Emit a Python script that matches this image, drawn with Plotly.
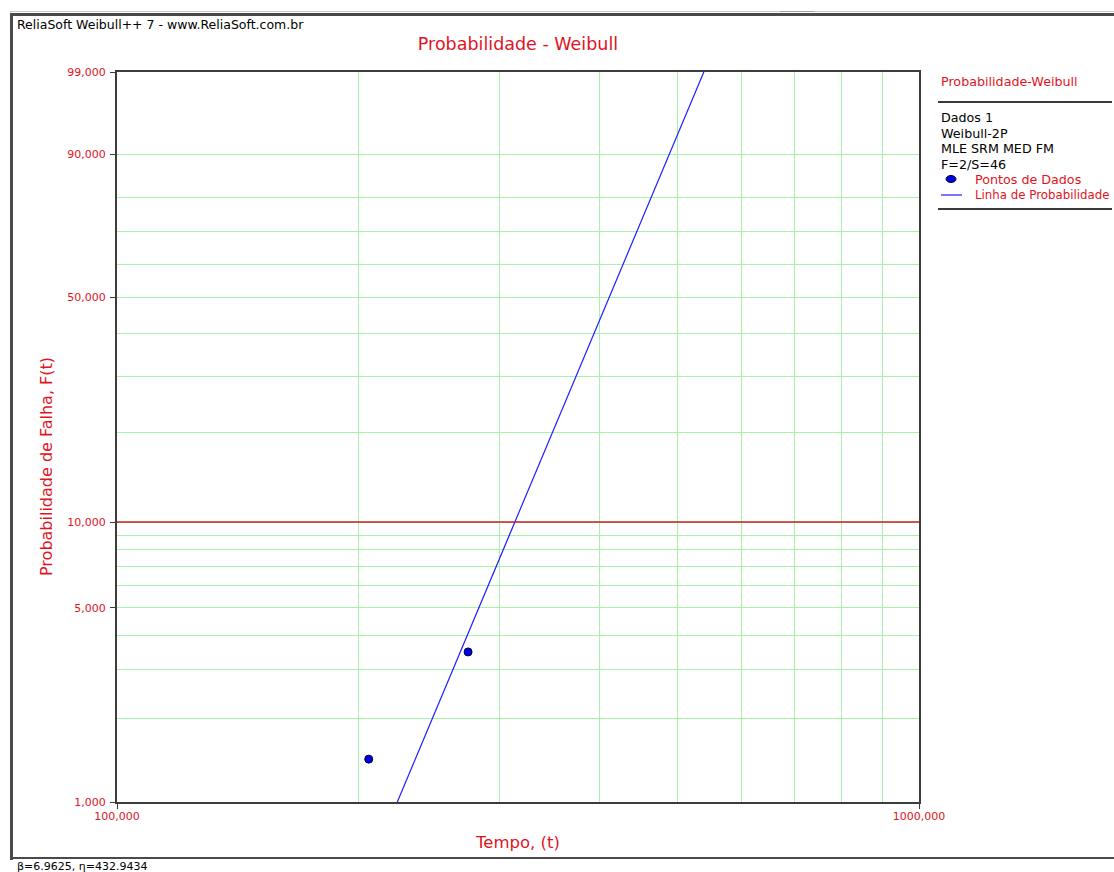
import numpy as np
import plotly.graph_objects as go

# Weibull-2P parameters (MLE)
beta = 6.9625
eta = 432.9434

# plotted failure points: time and median-rank unreliability
fail_times = [206.0, 274.0]
fail_prob = [0.0143, 0.0348]

# probability axis (unreliability, as fractions)
prob_major = [0.01, 0.05, 0.10, 0.50, 0.90, 0.99]
prob_major_labels = ["1,000", "5,000", "10,000", "50,000", "90,000", "99,000"]
prob_minor = [0.02, 0.03, 0.04, 0.06, 0.07, 0.08, 0.09, 0.20, 0.30, 0.40, 0.60, 0.70, 0.80]

# time axis
time_major = [100, 1000]
time_major_labels = ["100,000", "1000,000"]
time_minor = [200, 300, 400, 500, 600, 700, 800, 900]

# fitted line drawn across the full probability range
line_prob = [0.01, 0.99]

W, H = 1114, 872
L, R, T, B = 117, 919, 72, 802

FONT = "DejaVu Sans"
RED = "#e0141e"
GRID = "#a6f2a6"
FRAME = "#3c3c3c"


def wb(F):
    """Weibull probability-paper transform."""
    return np.log(-np.log(1.0 - np.asarray(F, dtype=float)))


def px(x):
    return (x - L) / (R - L)


def py(y):
    return (B - y) / (B - T)


line_time = eta * (-np.log(1.0 - np.asarray(line_prob))) ** (1.0 / beta)

# every grid position carries a tick; only the major ones get a label
x_grid = sorted(time_major + time_minor)
x_text = [time_major_labels[time_major.index(v)] if v in time_major else "" for v in x_grid]
y_grid = sorted(prob_major + prob_minor)
y_text = [prob_major_labels[prob_major.index(v)] if v in prob_major else "" for v in y_grid]

fig = go.Figure()

fig.add_trace(go.Scatter(
    x=line_time, y=wb(line_prob), mode="lines",
    line=dict(color="#1e1eff", width=1.2),
    name="Linha de Probabilidade", showlegend=False,
))
fig.add_trace(go.Scatter(
    x=fail_times, y=wb(fail_prob), mode="markers",
    marker=dict(symbol="circle", size=8, color="#0000e6",
                line=dict(color="#000033", width=1)),
    name="Pontos de Dados", showlegend=False,
))

shapes = []
# 10% reference line
shapes.append(dict(type="line", xref="paper", yref="y", x0=0, x1=1,
                   y0=float(wb(0.10)), y1=float(wb(0.10)),
                   line=dict(color="#c42020", width=1.6), layer="above"))


# window frame
def hline(y, x0, x1, color, width):
    shapes.append(dict(type="line", xref="paper", yref="paper",
                       x0=px(x0), x1=px(x1), y0=py(y), y1=py(y),
                       line=dict(color=color, width=width), layer="above"))


def vline(x, y0, y1, color, width):
    shapes.append(dict(type="line", xref="paper", yref="paper",
                       x0=px(x), x1=px(x), y0=py(y0), y1=py(y1),
                       line=dict(color=color, width=width), layer="above"))


hline(11.5, 10, W, "#c8c8c8", 1)
hline(14.5, 10, W, "#4a4a4a", 3)
hline(11.5, 780, 814, "#a0a0a0", 1)
vline(11.5, 13, 860, "#4a4a4a", 3)
hline(858, 10, W, "#4a4a4a", 2)
hline(102, 938, 1112, "#3a3a3a", 2)
hline(209, 938, 1112, "#3a3a3a", 2)

# legend symbols
shapes.append(dict(type="circle", xref="paper", yref="paper",
                   x0=px(946), x1=px(956), y0=py(175.5), y1=py(182.5),
                   fillcolor="#0000e6", line=dict(color="#000033", width=1)))
hline(195, 941, 962, "#1e1eff", 1.2)

annotations = []


def text(x, y, s, color="black", size=11, anchor="left", angle=0):
    annotations.append(dict(xref="paper", yref="paper", x=px(x), y=py(y),
                            text=s, showarrow=False, xanchor=anchor,
                            yanchor="middle", textangle=angle,
                            font=dict(family=FONT, size=size, color=color)))


text(15, 24, "ReliaSoft Weibull++ 7 - www.ReliaSoft.com.br", size=12.5)
text(939, 81, "Probabilidade-Weibull", RED, size=12.7)
for i, s in enumerate(["Dados 1", "Weibull-2P", "MLE SRM MED FM", "F=2/S=46"]):
    text(939, 118 + i * 15.4, s, size=12.7)
text(973, 179, "Pontos de Dados", RED, size=12.7)
text(973, 195, "Linha de Probabilidade", RED, size=11.8)
text(15, 867, "\u03b2=6.9625, \u03b7=432.9434")
text(47, 467, "Probabilidade de Falha, F(t)", RED, size=16, anchor="center", angle=-90)

fig.update_layout(
    width=W, height=H, autosize=False,
    margin=dict(l=L, r=W - R, t=T, b=H - B, pad=0),
    paper_bgcolor="white", plot_bgcolor="white",
    font=dict(family=FONT, size=11, color=RED),
    title=dict(text="Probabilidade - Weibull", x=0.5, xref="paper",
               y=1 - 44 / H, yanchor="middle", xanchor="center",
               font=dict(family=FONT, size=17.5, color=RED)),
    shapes=shapes, annotations=annotations,
    showlegend=False,
)

fig.update_xaxes(
    type="log", range=[2, 3],
    tickmode="array", tickvals=x_grid, ticktext=x_text, ticks="",
    ticklabelstandoff=3,
    showgrid=True, gridcolor=GRID, gridwidth=1, zeroline=False,
    showline=True, linecolor=FRAME, linewidth=2, mirror=True,
    tickfont=dict(family=FONT, size=11, color=RED),
    minor=dict(tickmode="array", tickvals=time_major, showgrid=False,
               ticks="outside", ticklen=5, tickcolor=FRAME, tickwidth=1),
    title=dict(text="Tempo, (t)", standoff=14,
               font=dict(family=FONT, size=16.5, color=RED)),
)

fig.update_yaxes(
    range=[float(wb(0.01)), float(wb(0.99))],
    tickmode="array", tickvals=wb(y_grid).tolist(), ticktext=y_text, ticks="",
    ticklabelstandoff=7,
    showgrid=True, gridcolor=GRID, gridwidth=1, zeroline=False,
    showline=True, linecolor=FRAME, linewidth=2, mirror=True,
    tickfont=dict(family=FONT, size=11, color=RED),
    minor=dict(tickmode="array", tickvals=wb(prob_major).tolist(), showgrid=False,
               ticks="outside", ticklen=5, tickcolor=FRAME, tickwidth=1),
)

fig.write_html("out.html")
